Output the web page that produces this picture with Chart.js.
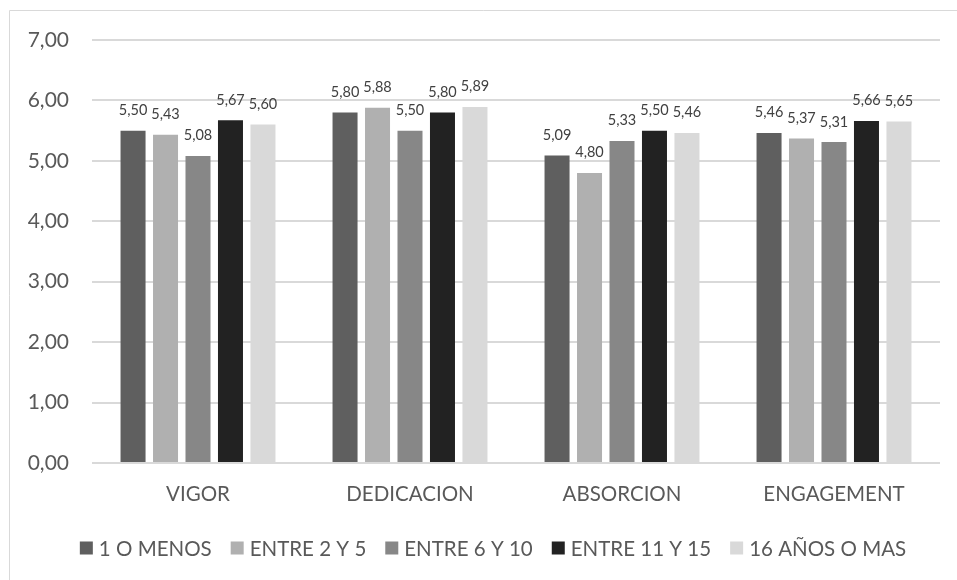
<!DOCTYPE html>
<html>
<head>
<meta charset="utf-8">
<style>
  html, body { margin: 0; padding: 0; background: #ffffff; }
  #wrap { position: relative; width: 957px; height: 580px; }
</style>
<script src="https://cdn.jsdelivr.net/npm/chart.js@4.4.0/dist/chart.umd.min.js"></script>
</head>
<body>
<div id="wrap"><canvas id="chart" width="957" height="580"></canvas></div>
<script>
// Engagement dimensions by years of seniority
const categories = ['VIGOR', 'DEDICACION', 'ABSORCION', 'ENGAGEMENT'];
const seriesNames = ['1 O MENOS', 'ENTRE 2 Y 5', 'ENTRE 6 Y 10', 'ENTRE 11 Y 15', '16 AÑOS O MAS'];
const unoOMenos   = [5.50, 5.80, 5.09, 5.46];
const entre2y5    = [5.43, 5.88, 4.80, 5.37];
const entre6y10   = [5.08, 5.50, 5.33, 5.31];
const entre11y15  = [5.67, 5.80, 5.50, 5.66];
const dieciseisMas = [5.60, 5.89, 5.46, 5.65];
const yTicks = [0, 1, 2, 3, 4, 5, 6, 7];

const seriesValues = [unoOMenos, entre2y5, entre6y10, entre11y15, dieciseisMas];
const seriesColors = ['#5f5f5f', '#b0b0b0', '#878787', '#222222', '#d9d9d9'];

const FONT = 'Lato, "Open Sans", sans-serif';
const fmt = v => v.toFixed(2).replace('.', ',');

// Light frame around the chart
const framePlugin = {
  id: 'frame',
  beforeDraw(chart) {
    const ctx = chart.ctx;
    ctx.save();
    ctx.strokeStyle = '#d9d9d9';
    ctx.lineWidth = 1;
    ctx.beginPath();
    ctx.moveTo(9.5, 580);
    ctx.lineTo(9.5, 10.5);
    ctx.lineTo(957, 10.5);
    ctx.stroke();
    ctx.restore();
  }
};

// Value labels above each bar
const valueLabels = {
  id: 'valueLabels',
  afterDatasetsDraw(chart) {
    const ctx = chart.ctx;
    ctx.save();
    ctx.font = '14.5px ' + FONT;
    ctx.fillStyle = '#404040';
    ctx.textAlign = 'center';
    ctx.textBaseline = 'bottom';
    chart.data.datasets.forEach((ds, i) => {
      chart.getDatasetMeta(i).data.forEach((bar, j) => {
        ctx.fillText(fmt(ds.data[j]), bar.x, bar.y - 13);
      });
    });
    ctx.restore();
  }
};

// Legend row under the category labels
const bottomLegend = {
  id: 'bottomLegend',
  afterDraw(chart) {
    const ctx = chart.ctx;
    ctx.save();
    ctx.font = '20.5px ' + FONT;
    ctx.textBaseline = 'middle';
    const box = 13, gapText = 6, gapItem = 19, cy = 548;
    const widths = seriesNames.map(n => ctx.measureText(n).width);
    const total = widths.reduce((a, w) => a + box + gapText + w, 0) + gapItem * (seriesNames.length - 1);
    let x = 493 - total / 2;
    seriesNames.forEach((n, i) => {
      ctx.fillStyle = seriesColors[i];
      ctx.fillRect(x, cy - box / 2, box, box);
      ctx.fillStyle = '#595959';
      ctx.fillText(n, x + box + gapText, cy + 1);
      x += box + gapText + widths[i] + gapItem;
    });
    ctx.restore();
  }
};

new Chart(document.getElementById('chart'), {
  type: 'bar',
  data: {
    labels: categories,
    datasets: seriesNames.map((name, i) => ({
      label: name,
      data: seriesValues[i],
      backgroundColor: seriesColors[i],
      borderWidth: 0,
      categoryPercentage: 0.766,
      barPercentage: 0.77
    }))
  },
  options: {
    responsive: false,
    animation: false,
    devicePixelRatio: 1,
    layout: { padding: { left: 9, top: 40, right: 17, bottom: 0 } },
    plugins: {
      legend: { display: false },
      tooltip: { enabled: false }
    },
    scales: {
      x: {
        grid: { display: false, drawTicks: false },
        border: { display: false },
        ticks: {
          color: '#595959',
          font: { family: FONT, size: 20.5 },
          padding: 19
        },
        afterFit(scale) { scale.height = 117; }
      },
      y: {
        min: 0,
        max: 7,
        afterBuildTicks(scale) { scale.ticks = yTicks.map(v => ({ value: v })); },
        grid: { color: '#d9d9d9', lineWidth: 2, drawTicks: false },
        border: { display: false },
        ticks: {
          color: '#595959',
          font: { family: FONT, size: 21 },
          padding: 23,
          callback: v => fmt(v)
        },
        afterFit(scale) { scale.width = 83; }
      }
    }
  },
  plugins: [framePlugin, valueLabels, bottomLegend]
});
</script>
</body>
</html>
